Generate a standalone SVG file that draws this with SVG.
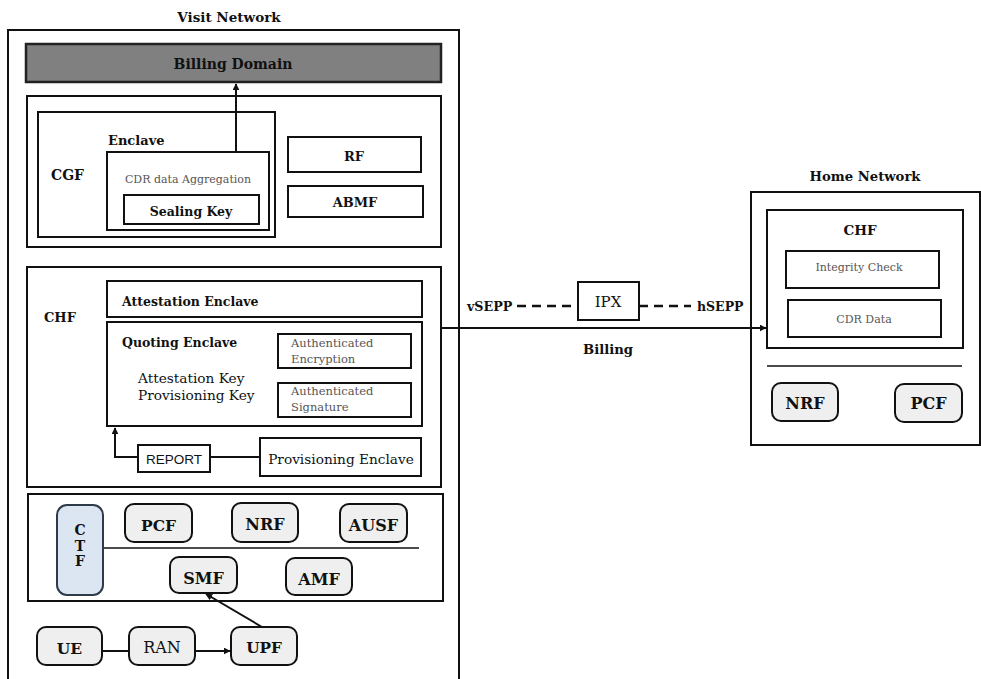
<svg xmlns="http://www.w3.org/2000/svg" width="981" height="679" viewBox="0 0 981 679">
  <defs>
    <style>
      .box { fill: #ffffff; stroke: #111111; stroke-width: 2; }
      .nf { fill: #efefef; stroke: #111111; stroke-width: 2; }
      .ln { fill: none; stroke: #111111; stroke-width: 2; }
      .thin { fill: none; stroke: #111111; stroke-width: 1.3; }
      .dash { fill: none; stroke: #111111; stroke-width: 2.5; stroke-dasharray: 9 6; }
      text { font-family: "DejaVu Serif", "Liberation Serif", serif; fill: #111111; }
      .b { font-weight: bold; }
      .g { fill: #555555; }
      .c { text-anchor: middle; }
      .sans { font-family: "Liberation Sans", Arial, sans-serif; }
    </style>
    <marker id="arr" viewBox="0 0 10 10" refX="9" refY="5" markerWidth="7" markerHeight="7" markerUnits="userSpaceOnUse" orient="auto">
      <path d="M0,0 L10,5 L0,10 z" fill="#111111"/>
    </marker>
  </defs>

  <!-- Visited network -->
  <g id="visit-network">
    <rect class="box" x="8" y="30" width="451" height="660"/>
    <text class="c b" x="229" y="22" font-size="13.5">Visit Network</text>
  </g>

  <g id="billing-domain">
    <rect x="26" y="44" width="415" height="38" fill="#808080" stroke="#222222" stroke-width="2.5"/>
    <text class="c b" x="233" y="69" font-size="14" fill="#1a1a1a">Billing Domain</text>
  </g>

  <!-- Charging gateway function block -->
  <g id="cgf-area">
    <rect class="box" x="27" y="96" width="414" height="151"/>
  </g>
  <g id="cgf">
    <rect class="box" x="38" y="112" width="237" height="125"/>
    <text class="b" x="51" y="180" font-size="14">CGF</text>
    <text class="b" x="108" y="145" font-size="13">Enclave</text>
  </g>
  <g id="cgf-enclave">
    <rect class="box" x="107" y="152" width="162" height="78"/>
    <text class="c g" x="188" y="183" font-size="11">CDR data Aggregation</text>
  </g>
  <g id="sealing-key">
    <rect class="box" x="124" y="195" width="135" height="29"/>
    <text class="c b" x="191" y="216" font-size="12.5">Sealing Key</text>
  </g>
  <g id="rf">
    <rect class="box" x="288" y="137" width="133" height="35"/>
    <text class="c b" x="354" y="161" font-size="13">RF</text>
  </g>
  <g id="abmf">
    <rect class="box" x="288" y="186" width="135" height="31"/>
    <text class="c b" x="355" y="207" font-size="13">ABMF</text>
  </g>

  <!-- Charging function with enclaves -->
  <g id="chf">
    <rect class="box" x="27" y="267" width="414" height="220"/>
    <text class="b" x="44" y="322" font-size="13">CHF</text>
  </g>
  <g id="attestation-enclave">
    <rect class="box" x="107" y="281" width="315" height="36"/>
    <text class="b" x="122" y="306" font-size="12.5">Attestation Enclave</text>
  </g>
  <g id="quoting-enclave">
    <rect class="box" x="107" y="322" width="315" height="104"/>
    <text class="b" x="122" y="347" font-size="12.5">Quoting Enclave</text>
    <text x="138" y="383" font-size="13.7">Attestation Key</text>
    <text x="138" y="400" font-size="13.7">Provisioning Key</text>
  </g>
  <g id="auth-encryption">
    <rect class="box" x="278" y="334" width="133" height="34"/>
    <text class="g" x="291" y="347" font-size="11.5">Authenticated</text>
    <text class="g" x="291" y="363" font-size="11.5">Encryption</text>
  </g>
  <g id="auth-signature">
    <rect class="box" x="278" y="383" width="133" height="34"/>
    <text class="g" x="291" y="395" font-size="11.5">Authenticated</text>
    <text class="g" x="291" y="411" font-size="11.5">Signature</text>
  </g>
  <g id="report">
    <rect class="box" x="138" y="445" width="72" height="27"/>
    <text class="c sans" x="174" y="464" font-size="13.5">REPORT</text>
  </g>
  <g id="provisioning-enclave">
    <rect class="box" x="260" y="438" width="161" height="38"/>
    <text class="c" x="341" y="464" font-size="13.7">Provisioning Enclave</text>
  </g>

  <!-- Core network functions -->
  <g id="core-area">
    <rect class="box" x="28" y="494" width="415" height="107"/>
    <line class="thin" x1="103" y1="548" x2="419" y2="548"/>
  </g>
  <g id="ctf">
    <rect x="57" y="505" width="46" height="90" rx="10" fill="#dce6f2" stroke="#2e3b4a" stroke-width="2"/>
    <text class="c b" x="80" y="535" font-size="14">C</text>
    <text class="c b" x="80" y="551" font-size="14">T</text>
    <text class="c b" x="80" y="566" font-size="14">F</text>
  </g>
  <g id="pcf">
    <rect class="nf" x="125" y="504" width="67" height="38" rx="9"/>
    <text class="c b" x="158.5" y="531" font-size="15.5">PCF</text>
  </g>
  <g id="nrf">
    <rect class="nf" x="232" y="503" width="66" height="39" rx="9"/>
    <text class="c b" x="265" y="530" font-size="16">NRF</text>
  </g>
  <g id="ausf">
    <rect class="nf" x="340" y="504" width="67" height="38" rx="9"/>
    <text class="c b" x="373.5" y="531" font-size="16">AUSF</text>
  </g>
  <g id="smf">
    <rect class="nf" x="170" y="557" width="67" height="36" rx="9"/>
    <text class="c b" x="203.5" y="584" font-size="16">SMF</text>
  </g>
  <g id="amf">
    <rect class="nf" x="286" y="558" width="66" height="37" rx="9"/>
    <text class="c b" x="319" y="585" font-size="16">AMF</text>
  </g>
  <g id="ue">
    <rect class="nf" x="37" y="627" width="65" height="38" rx="9"/>
    <text class="c b" x="69.5" y="654" font-size="15.5">UE</text>
  </g>
  <g id="ran">
    <rect class="nf" x="129" y="627" width="66" height="38" rx="9"/>
    <text class="c" x="162" y="653" font-size="16">RAN</text>
  </g>
  <g id="upf">
    <rect class="nf" x="231" y="627" width="66" height="38" rx="9"/>
    <text class="c b" x="264" y="653" font-size="15.3">UPF</text>
  </g>

  <!-- Home network -->
  <g id="home-network">
    <rect class="box" x="751" y="192" width="229" height="253"/>
    <text class="c b" x="865" y="181" font-size="13.2">Home Network</text>
    <line class="thin" x1="767" y1="366" x2="962" y2="366"/>
  </g>
  <g id="home-chf">
    <rect class="box" x="767" y="210" width="196" height="138"/>
    <text class="c b" x="860" y="235" font-size="13.5">CHF</text>
  </g>
  <g id="integrity-check">
    <rect class="box" x="786" y="251" width="153" height="37"/>
    <text class="c g" x="859" y="271" font-size="11">Integrity Check</text>
  </g>
  <g id="cdr-data">
    <rect class="box" x="788" y="300" width="153" height="37"/>
    <text class="c g" x="864" y="323" font-size="11">CDR Data</text>
  </g>
  <g id="home-nrf">
    <rect class="nf" x="772" y="383" width="66" height="38" rx="9"/>
    <text class="c b" x="805" y="409" font-size="16">NRF</text>
  </g>
  <g id="home-pcf">
    <rect class="nf" x="895" y="384" width="67" height="38" rx="9"/>
    <text class="c b" x="928.5" y="409" font-size="16">PCF</text>
  </g>

  <!-- Roaming interconnect -->
  <g id="ipx">
    <rect class="box" x="578" y="282" width="61" height="38"/>
    <text class="c" x="608" y="307" font-size="15">IPX</text>
  </g>
  <g id="sepp-labels">
    <text class="b" x="467" y="311" font-size="12.7">vSEPP</text>
    <text class="b" x="697" y="311" font-size="12.5">hSEPP</text>
    <text class="c b" x="608" y="354" font-size="13.2">Billing</text>
  </g>

  <!-- Connectors -->
  <g id="connectors">
    <line class="ln" x1="236" y1="152" x2="236" y2="84" marker-end="url(#arr)"/>
    <polyline class="ln" points="260,457 210,457"/>
    <polyline class="ln" points="138,457 115,457 115,428" marker-end="url(#arr)"/>
    <line class="ln" x1="441" y1="328" x2="766" y2="328" marker-end="url(#arr)"/>
    <line class="dash" x1="517" y1="306" x2="578" y2="306"/>
    <line class="dash" x1="639" y1="306" x2="691" y2="306"/>
    <line class="ln" x1="102" y1="651" x2="129" y2="651"/>
    <line class="ln" x1="195" y1="651" x2="230" y2="651" marker-end="url(#arr)"/>
    <line class="ln" x1="262" y1="627" x2="206" y2="594" marker-end="url(#arr)"/>
  </g>
</svg>
